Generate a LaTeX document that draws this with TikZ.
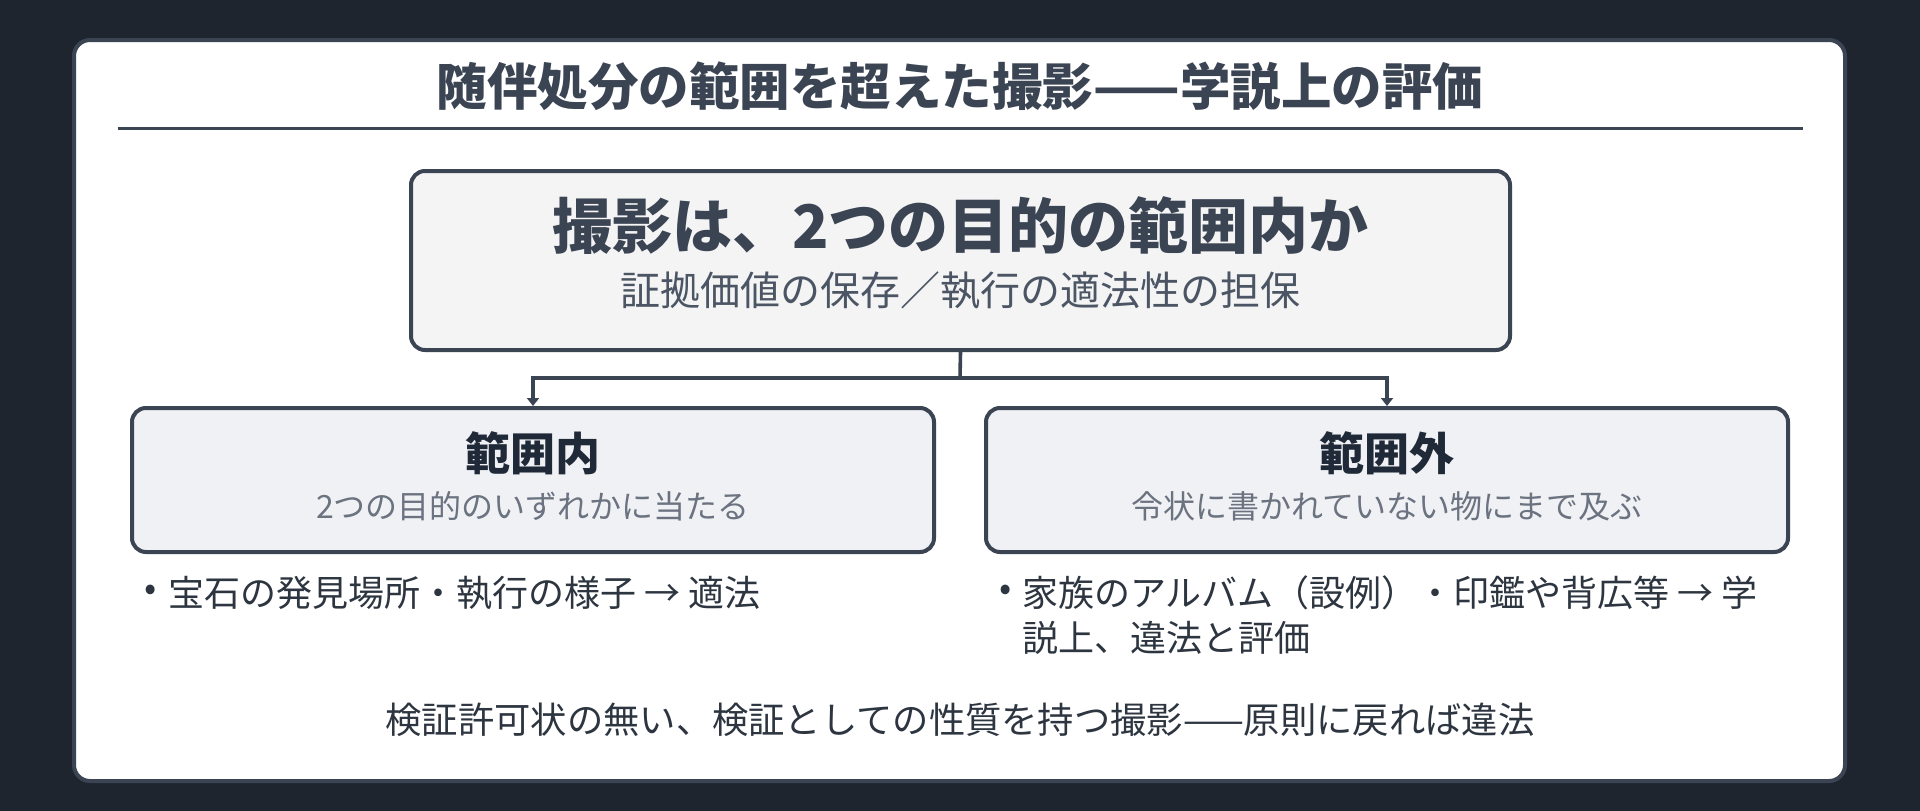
\documentclass[tikz,border=0pt]{standalone}
\usepackage{fontspec}
\setmainfont{Noto Sans CJK JP}
\usetikzlibrary{arrows.meta}
\definecolor{bgdark}{HTML}{1E252F}
\definecolor{slate}{HTML}{3B4453}
\definecolor{topfill}{HTML}{F4F4F5}
\definecolor{subfill}{HTML}{F0F1F4}
\definecolor{greytext}{HTML}{4B5563}
\definecolor{lightgrey}{HTML}{6B7280}
\definecolor{darktext}{HTML}{1F2937}
\definecolor{bodytext}{HTML}{2D3540}
\tikzset{
  box/.style={draw=slate, line width=4pt, rounded corners=14pt, inner sep=0pt},
  conn/.style={draw=slate, line width=3.6pt},
  txt/.style={inner sep=0pt, outer sep=0pt},
}
\begin{document}
\begin{tikzpicture}[x=1pt,y=-1pt]
\useasboundingbox (0,0) rectangle (1920,811);
\fill[bgdark] (0,0) rectangle (1920,811);
\node[draw=slate, line width=4pt, fill=white, rounded corners=16pt, minimum width=1771pt, minimum height=741pt, inner sep=0pt] (card) at (959.5,410.5) {};
\node[txt, text=slate, font=\fontsize{50.5}{56}\selectfont\bfseries] (title) at (960,86) {随伴処分の範囲を超えた撮影——学説上の評価};
\draw[draw=slate, line width=2.5pt] (117.5,128.5) coordinate (ruleL) -- (1803,128.5) coordinate (ruleR);

\node[box, fill=topfill, minimum width=1099pt, minimum height=179pt] (top) at (960.5,260.5) {};
\node[txt, text=slate, font=\fontsize{60}{66}\selectfont\bfseries] (q) at (960.5,226) {撮影は、2つの目的の範囲内か};
\node[txt, text=greytext, font=\fontsize{40}{46}\selectfont] (qs) at (960.5,291) {証拠価値の保存／執行の適法性の担保};

\node[box, fill=subfill, minimum width=802pt, minimum height=144pt] (left) at (533,480) {};
\node[box, fill=subfill, minimum width=802pt, minimum height=144pt] (right) at (1387,480) {};
\node[txt, text=darktext, font=\fontsize{45}{50}\selectfont\bfseries] (lt) at (533,453) {範囲内};
\node[txt, text=lightgrey, font=\fontsize{32}{38}\selectfont] (ls) at (533,506) {2つの目的のいずれかに当たる};
\node[txt, text=darktext, font=\fontsize{45}{50}\selectfont\bfseries] (rt) at (1387,453) {範囲外};
\node[txt, text=lightgrey, font=\fontsize{32}{38}\selectfont] (rs) at (1387,506) {令状に書かれていない物にまで及ぶ};

\coordinate (junc) at (960,378);
\draw[conn] (top.south) -- (junc);
\draw[conn, -{Triangle[length=8pt,width=12pt]}] (junc) -| (left.north);
\draw[conn, -{Triangle[length=8pt,width=12pt]}] (junc) -| (right.north);

\node[txt, text=bodytext, font=\fontsize{36}{42}\selectfont, anchor=west] (lb) at (144,593) {•};
\node[txt, text=bodytext, font=\fontsize{36}{42}\selectfont, anchor=west] (lbt) at (168,593) {宝石の発見場所・執行の様子 → 適法};
\node[txt, text=bodytext, font=\fontsize{36}{42}\selectfont, anchor=west] (rb) at (999,593) {•};
\node[txt, text=bodytext, font=\fontsize{36}{42}\selectfont, anchor=west] (rbt1) at (1022,593) {家族のアルバム（設例）・印鑑や背広等 → 学};
\node[txt, text=bodytext, font=\fontsize{36}{42}\selectfont, anchor=west] (rbt2) at (1022,638) {説上、違法と評価};

\node[txt, text=bodytext, font=\fontsize{36.3}{42}\selectfont] (foot) at (960,720) {検証許可状の無い、検証としての性質を持つ撮影——原則に戻れば違法};
\end{tikzpicture}
\end{document}
